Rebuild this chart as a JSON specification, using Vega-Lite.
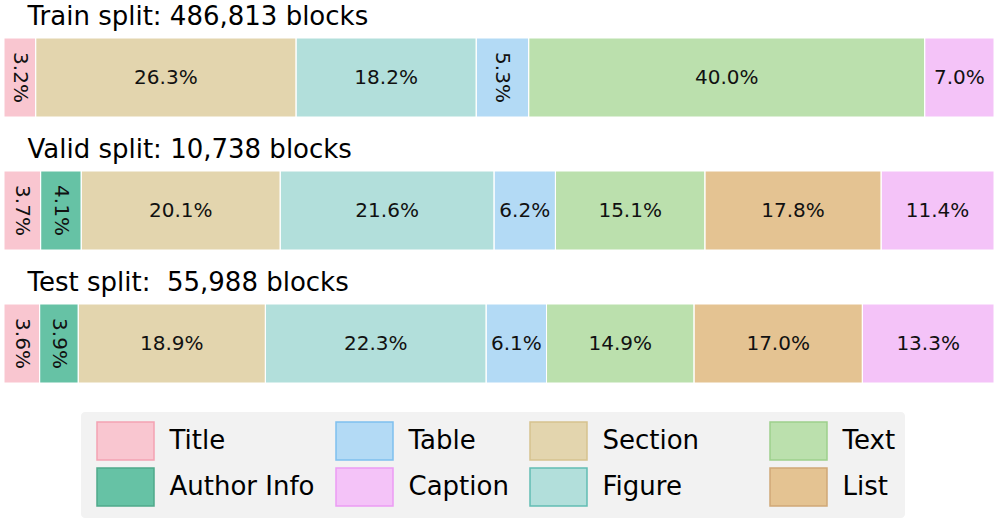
{
  "$schema": "https://vega.github.io/schema/vega-lite/v6.json",
  "padding": {"left": 3, "top": 4, "right": 0, "bottom": 0},
  "spacing": 19,
  "config": {
    "view": {"stroke": null},
    "font": "DejaVu Sans",
    "title": {"font": "DejaVu Sans", "fontSize": 26, "fontWeight": "normal", "anchor": "start", "color": "#000000", "offset": 7.5, "dx": 24},
    "concat": {"spacing": 19}
  },
  "data": {
    "values": [
      {"split": "Train", "category": "Title", "order": 1, "frac": 0.032},
      {"split": "Train", "category": "Section", "order": 3, "frac": 0.263},
      {"split": "Train", "category": "Figure", "order": 4, "frac": 0.182},
      {"split": "Train", "category": "Table", "order": 5, "frac": 0.053},
      {"split": "Train", "category": "Text", "order": 6, "frac": 0.400},
      {"split": "Train", "category": "Caption", "order": 8, "frac": 0.070},
      {"split": "Valid", "category": "Title", "order": 1, "frac": 0.037},
      {"split": "Valid", "category": "Author Info", "order": 2, "frac": 0.041},
      {"split": "Valid", "category": "Section", "order": 3, "frac": 0.201},
      {"split": "Valid", "category": "Figure", "order": 4, "frac": 0.216},
      {"split": "Valid", "category": "Table", "order": 5, "frac": 0.062},
      {"split": "Valid", "category": "Text", "order": 6, "frac": 0.151},
      {"split": "Valid", "category": "List", "order": 7, "frac": 0.178},
      {"split": "Valid", "category": "Caption", "order": 8, "frac": 0.114},
      {"split": "Test", "category": "Title", "order": 1, "frac": 0.036},
      {"split": "Test", "category": "Author Info", "order": 2, "frac": 0.039},
      {"split": "Test", "category": "Section", "order": 3, "frac": 0.189},
      {"split": "Test", "category": "Figure", "order": 4, "frac": 0.223},
      {"split": "Test", "category": "Table", "order": 5, "frac": 0.061},
      {"split": "Test", "category": "Text", "order": 6, "frac": 0.149},
      {"split": "Test", "category": "List", "order": 7, "frac": 0.170},
      {"split": "Test", "category": "Caption", "order": 8, "frac": 0.133}
    ]
  },
  "vconcat": [
    {
      "width": 990, "height": 79,
      "title": {"text": "Train split: 486,813 blocks"},
      "transform": [{"filter": "datum.split == 'Train'"}],
      "encoding": {
        "y": {"field": "split", "type": "nominal", "axis": null, "scale": {"paddingInner": 0, "paddingOuter": 0}},
        "order": {"field": "order", "type": "quantitative"}
      },
      "layer": [
        {
          "mark": {"type": "bar"},
          "encoding": {
            "x": {"field": "frac", "type": "quantitative", "stack": "zero", "axis": null, "scale": {"domain": [0, 1], "nice": false}},
            "color": {
              "field": "category", "type": "nominal",
              "scale": {
                "domain": ["Title", "Table", "Section", "Text", "Author Info", "Caption", "Figure", "List"],
                "range": ["#f9c6d0", "#b3daf5", "#e3d5ae", "#bbe0ad", "#66c2a5", "#f4c3f8", "#b2dfdb", "#e4c392"]
              },
              "legend": {
                "title": null, "orient": "none", "legendX": 77, "legendY": 374,
                "columns": 4, "direction": "horizontal",
                "fillColor": "#f2f2f2", "strokeColor": null, "cornerRadius": 4, "padding": 9,
                "symbolType": "M-1.5,-1H1.5V1H-1.5Z", "symbolSize": 1444, "symbolStrokeWidth": 1.5,
                "symbolOffset": 15.5, "labelOffset": 24,
                "labelFont": "DejaVu Sans", "labelFontSize": 26, "labelColor": "#000000", "labelLimit": 500,
                "rowPadding": 2, "columnPadding": 14, "gridAlign": "each",
                "labelExpr": "datum.label == 'Section' ? 'Section\u00a0\u00a0\u00a0\u00a0\u00a0\u00a0\u200b' : datum.label",
                "symbolOpacity": 1,
                "encode": {
                  "symbols": {
                    "update": {
                      "stroke": {"signal": "datum.value == 'Title' ? '#f4a2b3' : datum.value == 'Table' ? '#7fc0ee' : datum.value == 'Section' ? '#d6c28f' : datum.value == 'Text' ? '#9dd08c' : datum.value == 'Author Info' ? '#4fa98a' : datum.value == 'Caption' ? '#ec9cf4' : datum.value == 'Figure' ? '#62bdb4' : '#cfa877'"},
                      "strokeWidth": {"value": 1.5}
                    }
                  }
                }
              }
            }
          }
        },
        {
          "mark": {"type": "bar", "fill": null, "fillOpacity": 0, "stroke": "#ffffff", "strokeWidth": 1},
          "encoding": {
            "x": {"field": "frac", "type": "quantitative", "stack": "zero", "scale": {"domain": [0, 1], "nice": false}},
            "detail": {"field": "category", "type": "nominal"}
          }
        },
        {
          "mark": {"type": "text", "font": "DejaVu Sans", "fontSize": 20, "color": "#111111", "align": "center", "baseline": "middle"},
          "encoding": {
            "x": {"field": "frac", "type": "quantitative", "stack": "zero", "bandPosition": 0.5, "scale": {"domain": [0, 1], "nice": false}},
            "text": {"field": "frac", "type": "quantitative", "format": ".1%"},
            "angle": {"condition": {"test": "datum.frac < 0.06", "value": 90}, "value": 0}
          }
        }
      ]
    },
    {
      "width": 990, "height": 79,
      "title": {"text": "Valid split: 10,738 blocks"},
      "transform": [{"filter": "datum.split == 'Valid'"}],
      "encoding": {
        "y": {"field": "split", "type": "nominal", "axis": null, "scale": {"paddingInner": 0, "paddingOuter": 0}},
        "order": {"field": "order", "type": "quantitative"}
      },
      "layer": [
        {
          "mark": {"type": "bar"},
          "encoding": {
            "x": {"field": "frac", "type": "quantitative", "stack": "zero", "axis": null, "scale": {"domain": [0, 1], "nice": false}},
            "color": {"field": "category", "type": "nominal"}
          }
        },
        {
          "mark": {"type": "bar", "fill": null, "fillOpacity": 0, "stroke": "#ffffff", "strokeWidth": 1},
          "encoding": {
            "x": {"field": "frac", "type": "quantitative", "stack": "zero", "scale": {"domain": [0, 1], "nice": false}},
            "detail": {"field": "category", "type": "nominal"}
          }
        },
        {
          "mark": {"type": "text", "font": "DejaVu Sans", "fontSize": 20, "color": "#111111", "align": "center", "baseline": "middle"},
          "encoding": {
            "x": {"field": "frac", "type": "quantitative", "stack": "zero", "bandPosition": 0.5, "scale": {"domain": [0, 1], "nice": false}},
            "text": {"field": "frac", "type": "quantitative", "format": ".1%"},
            "angle": {"condition": {"test": "datum.frac < 0.06", "value": 90}, "value": 0}
          }
        }
      ]
    },
    {
      "width": 990, "height": 79,
      "title": {"text": "Test split:\u00a0 55,988 blocks"},
      "transform": [{"filter": "datum.split == 'Test'"}],
      "encoding": {
        "y": {"field": "split", "type": "nominal", "axis": null, "scale": {"paddingInner": 0, "paddingOuter": 0}},
        "order": {"field": "order", "type": "quantitative"}
      },
      "layer": [
        {
          "mark": {"type": "bar"},
          "encoding": {
            "x": {"field": "frac", "type": "quantitative", "stack": "zero", "axis": null, "scale": {"domain": [0, 1], "nice": false}},
            "color": {"field": "category", "type": "nominal"}
          }
        },
        {
          "mark": {"type": "bar", "fill": null, "fillOpacity": 0, "stroke": "#ffffff", "strokeWidth": 1},
          "encoding": {
            "x": {"field": "frac", "type": "quantitative", "stack": "zero", "scale": {"domain": [0, 1], "nice": false}},
            "detail": {"field": "category", "type": "nominal"}
          }
        },
        {
          "mark": {"type": "text", "font": "DejaVu Sans", "fontSize": 20, "color": "#111111", "align": "center", "baseline": "middle"},
          "encoding": {
            "x": {"field": "frac", "type": "quantitative", "stack": "zero", "bandPosition": 0.5, "scale": {"domain": [0, 1], "nice": false}},
            "text": {"field": "frac", "type": "quantitative", "format": ".1%"},
            "angle": {"condition": {"test": "datum.frac < 0.06", "value": 90}, "value": 0}
          }
        }
      ]
    }
  ]
}
